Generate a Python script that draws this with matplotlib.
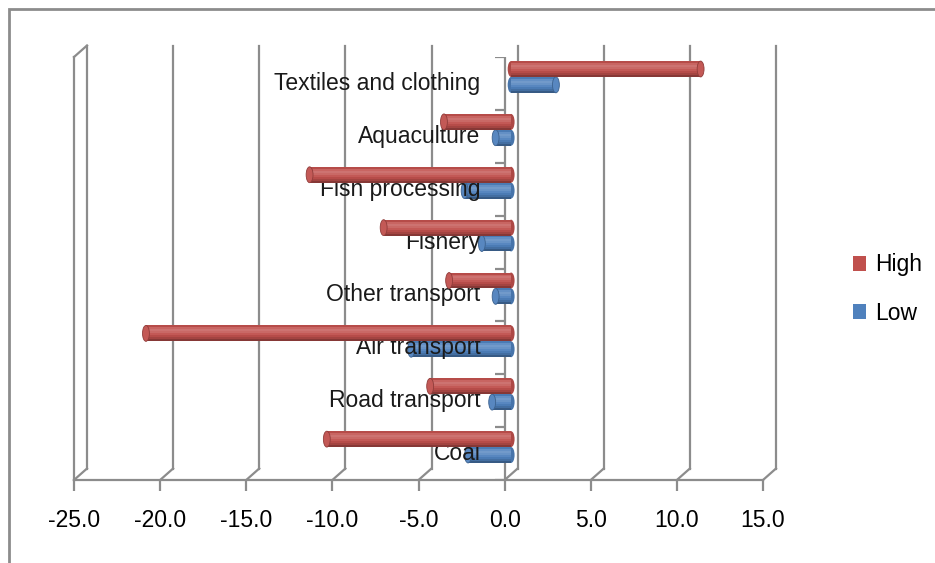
import numpy as np
import matplotlib
matplotlib.use('Agg')
import matplotlib.pyplot as plt
from matplotlib.patches import Ellipse, Patch, Rectangle
from matplotlib.lines import Line2D
from matplotlib.transforms import offset_copy, IdentityTransform
import matplotlib.colors as mcolors

plt.rcParams['font.family'] = ['Liberation Sans', 'DejaVu Sans']

# data (top to bottom as shown)
categories = ['Textiles and clothing', 'Aquaculture', 'Fish processing', 'Fishery',
              'Other transport', 'Air transport', 'Road transport', 'Coal']
high = [11.0, -3.9, -11.7, -7.4, -3.6, -21.2, -4.7, -10.7]
low = [2.6, -0.9, -2.7, -1.7, -0.9, -5.8, -1.1, -2.5]
xticks = [-25, -20, -15, -10, -5, 0, 5, 10, 15]

red = '#C0504D'
blue = '#4F81BD'
grey = '#8c8c8c'
fs = 16.5

def shade(c, f):
    c = np.array(mcolors.to_rgb(c))
    if f >= 0:
        return tuple(c + (1 - c) * f)
    return tuple(c * (1 + f))

fig = plt.figure(figsize=(9.35, 5.63), dpi=100)
W, H = 935, 563
ax = fig.add_axes([74 / W, (H - 480) / H, (763 - 74) / W, (480 - 57) / H])
ax.set_xlim(-25, 15)
ax.set_ylim(8, 0)
ax.patch.set_alpha(0)

back = offset_copy(ax.transData, fig=fig, x=13, y=11.5, units='dots')
mid = offset_copy(ax.transData, fig=fig, x=6.5, y=6.5, units='dots')
lab = offset_copy(ax.transData, fig=fig, x=-24, y=0, units='dots')

# back wall gridlines
for v in xticks:
    ax.plot([v, v], [8, 0], color=grey, lw=1.6, transform=back, zorder=1, clip_on=False)

# depth connectors (floor and top-left edge)
fig.canvas.draw()
def connector(x, y):
    p0 = ax.transData.transform((x, y))
    p1 = back.transform((x, y))
    fig.add_artist(Line2D([p0[0], p1[0]], [p0[1], p1[1]], color=grey, lw=1.6,
                          transform=IdentityTransform()))
for v in xticks:
    connector(v, 8)
connector(-25, 0)

# front frame
for s in ['top', 'right']:
    ax.spines[s].set_visible(False)
for s in ['left', 'bottom']:
    ax.spines[s].set_color(grey)
    ax.spines[s].set_linewidth(1.6)
ax.set_yticks([])
ax.set_xticks(xticks)
ax.set_xticklabels(['%.1f' % v for v in xticks], fontsize=fs)
ax.tick_params(axis='x', length=8, width=1.6, color=grey, pad=13)

# category axis at zero
ax.plot([0, 0], [0, 8], color=grey, lw=1.6, zorder=2)
ax.plot([0] * 9, range(9), ls='none', marker=0, markersize=7, mew=1.6, color=grey, zorder=2)

# cylinder bars
bh = 0.3
profile = [-0.05, 0.12, 0.2, 0.14, 0.05, -0.05, -0.15, -0.3]
def cylinder(y, v, color, z):
    n = len(profile)
    sh = bh / n
    for k, f in enumerate(profile):
        ax.barh(y - bh / 2 + sh * (k + 0.5), v, height=sh * 1.05, color=shade(color, f),
                linewidth=0, transform=mid, zorder=z)
    ew = 0.4
    ax.add_patch(Ellipse((0, y), ew, bh, facecolor=shade(color, -0.1), edgecolor='none',
                         transform=mid, zorder=z - 0.1))
    ax.add_patch(Ellipse((v, y), ew, bh, facecolor=shade(color, 0.05),
                         edgecolor=shade(color, -0.25), lw=0.6, transform=mid, zorder=z + 0.1))

for i in range(len(categories)):
    cylinder(i + 0.5 + bh / 2, low[i], blue, 3)
    cylinder(i + 0.5 - bh / 2, high[i], red, 5)
    ax.text(0, i + 0.5, categories[i], transform=lab, ha='right', va='center',
            fontsize=fs, color='#1a1a1a', zorder=4)

# legend
handles = [Patch(facecolor=red, edgecolor='none', label='High'),
           Patch(facecolor=blue, edgecolor='none', label='Low')]
fig.legend(handles=handles, loc='center left', bbox_to_anchor=(832 / W, 1 - 289 / H),
           frameon=False, fontsize=fs, handlelength=0.6, handleheight=0.6,
           handletextpad=0.4, labelspacing=1.1)

# chart border
fig.add_artist(Rectangle((9 / W, -0.1), 1.2, 1.1 - 9 / H, transform=fig.transFigure,
                         fill=False, edgecolor=grey, lw=2))

plt.savefig('out.png', dpi=100)
